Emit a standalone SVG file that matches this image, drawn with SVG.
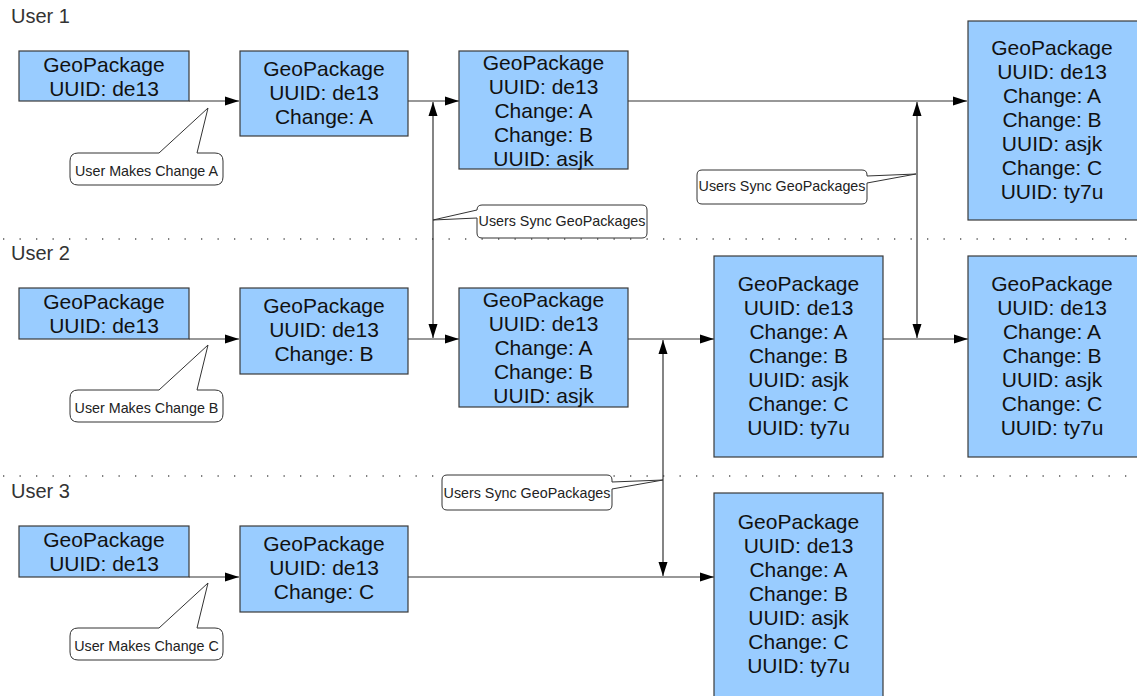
<svg xmlns="http://www.w3.org/2000/svg" width="1137" height="696" viewBox="0 0 1137 696">
<style>
.box{fill:#99ccff;stroke:#3a3a3a;stroke-width:1.2}
.bt{font-family:"Liberation Sans",Arial,sans-serif;font-size:21px;fill:#111;text-anchor:middle}
.lbl{font-family:"Liberation Sans",Arial,sans-serif;font-size:20px;fill:#333}
.co{fill:#fff;stroke:#333;stroke-width:1}
.ct{font-family:"Liberation Sans",Arial,sans-serif;font-size:14.3px;fill:#222;text-anchor:middle}
.ln{fill:none;stroke:#333;stroke-width:1.2}
.dot{stroke:#555;stroke-width:1.3;stroke-dasharray:1.3 15.2}
</style>
<defs>
<marker id="ah" markerUnits="userSpaceOnUse" markerWidth="14" markerHeight="10" refX="14" refY="5" orient="auto-start-reverse">
<path d="M0,0.5 L14,5 L0,9.5 Z" fill="#000"/>
</marker>
</defs>
<rect width="1137" height="696" fill="#fff"/>
<g id="separators">
<line class="dot" x1="3" y1="239" x2="1137" y2="239"/>
<line class="dot" x1="3" y1="476" x2="1137" y2="476"/>
</g>
<g id="labels">
<text class="lbl" x="11" y="23">User 1</text>
<text class="lbl" x="11" y="260">User 2</text>
<text class="lbl" x="11" y="498">User 3</text>
</g>
<g id="connectors">
<line class="ln" x1="189" y1="101" x2="239" y2="101" marker-end="url(#ah)"/>
<line class="ln" x1="408" y1="101" x2="459" y2="101" marker-end="url(#ah)"/>
<line class="ln" x1="628" y1="101" x2="967" y2="101" marker-end="url(#ah)"/>
<line class="ln" x1="189" y1="339" x2="239" y2="339" marker-end="url(#ah)"/>
<line class="ln" x1="408" y1="339" x2="459" y2="339" marker-end="url(#ah)"/>
<line class="ln" x1="628" y1="339" x2="714" y2="339" marker-end="url(#ah)"/>
<line class="ln" x1="883" y1="339" x2="968" y2="339" marker-end="url(#ah)"/>
<line class="ln" x1="189" y1="577" x2="239" y2="577" marker-end="url(#ah)"/>
<line class="ln" x1="408" y1="577" x2="714" y2="577" marker-end="url(#ah)"/>
<line class="ln" x1="433" y1="102" x2="433" y2="338" marker-start="url(#ah)" marker-end="url(#ah)"/>
<line class="ln" x1="917" y1="102" x2="917" y2="338" marker-start="url(#ah)" marker-end="url(#ah)"/>
<line class="ln" x1="663" y1="340" x2="663" y2="576" marker-start="url(#ah)" marker-end="url(#ah)"/>
</g>
<g id="r1b1"><rect class="box" x="19" y="51" width="170" height="50"/>
<text class="bt" x="104" y="72">GeoPackage</text><text class="bt" x="104" y="96">UUID: de13</text></g>
<g id="r1b2"><rect class="box" x="240" y="51" width="168" height="85"/>
<text class="bt" x="324" y="76">GeoPackage</text><text class="bt" x="324" y="100">UUID: de13</text><text class="bt" x="324" y="124">Change: A</text></g>
<g id="r1b3"><rect class="box" x="459" y="51" width="169" height="118"/>
<text class="bt" x="543.5" y="70">GeoPackage</text><text class="bt" x="543.5" y="94">UUID: de13</text><text class="bt" x="543.5" y="118">Change: A</text><text class="bt" x="543.5" y="142">Change: B</text><text class="bt" x="543.5" y="166">UUID: asjk</text></g>
<g id="r1b4"><rect class="box" x="968" y="21" width="172" height="199"/>
<text class="bt" x="1052" y="55">GeoPackage</text><text class="bt" x="1052" y="79">UUID: de13</text><text class="bt" x="1052" y="103">Change: A</text><text class="bt" x="1052" y="127">Change: B</text><text class="bt" x="1052" y="151">UUID: asjk</text><text class="bt" x="1052" y="175">Change: C</text><text class="bt" x="1052" y="199">UUID: ty7u</text></g>
<g id="r2b1"><rect class="box" x="19" y="288" width="170" height="51"/>
<text class="bt" x="104" y="309">GeoPackage</text><text class="bt" x="104" y="333">UUID: de13</text></g>
<g id="r2b2"><rect class="box" x="240" y="288" width="168" height="86"/>
<text class="bt" x="324" y="313">GeoPackage</text><text class="bt" x="324" y="337">UUID: de13</text><text class="bt" x="324" y="361">Change: B</text></g>
<g id="r2b3"><rect class="box" x="459" y="288" width="169" height="119"/>
<text class="bt" x="543.5" y="307">GeoPackage</text><text class="bt" x="543.5" y="331">UUID: de13</text><text class="bt" x="543.5" y="355">Change: A</text><text class="bt" x="543.5" y="379">Change: B</text><text class="bt" x="543.5" y="403">UUID: asjk</text></g>
<g id="r2b4"><rect class="box" x="714" y="256" width="169" height="201"/>
<text class="bt" x="798.5" y="291">GeoPackage</text><text class="bt" x="798.5" y="315">UUID: de13</text><text class="bt" x="798.5" y="339">Change: A</text><text class="bt" x="798.5" y="363">Change: B</text><text class="bt" x="798.5" y="387">UUID: asjk</text><text class="bt" x="798.5" y="411">Change: C</text><text class="bt" x="798.5" y="435">UUID: ty7u</text></g>
<g id="r2b5"><rect class="box" x="968" y="256" width="172" height="201"/>
<text class="bt" x="1052" y="291">GeoPackage</text><text class="bt" x="1052" y="315">UUID: de13</text><text class="bt" x="1052" y="339">Change: A</text><text class="bt" x="1052" y="363">Change: B</text><text class="bt" x="1052" y="387">UUID: asjk</text><text class="bt" x="1052" y="411">Change: C</text><text class="bt" x="1052" y="435">UUID: ty7u</text></g>
<g id="r3b1"><rect class="box" x="19" y="526" width="170" height="51"/>
<text class="bt" x="104" y="547">GeoPackage</text><text class="bt" x="104" y="571">UUID: de13</text></g>
<g id="r3b2"><rect class="box" x="240" y="526" width="168" height="86"/>
<text class="bt" x="324" y="551">GeoPackage</text><text class="bt" x="324" y="575">UUID: de13</text><text class="bt" x="324" y="599">Change: C</text></g>
<g id="r3b3"><rect class="box" x="714" y="493" width="169" height="205"/>
<text class="bt" x="798.5" y="529">GeoPackage</text><text class="bt" x="798.5" y="553">UUID: de13</text><text class="bt" x="798.5" y="577">Change: A</text><text class="bt" x="798.5" y="601">Change: B</text><text class="bt" x="798.5" y="625">UUID: asjk</text><text class="bt" x="798.5" y="649">Change: C</text><text class="bt" x="798.5" y="673">UUID: ty7u</text></g>
<g id="calloutA"><path class="co" d="M78,153 L159,153 L208,108 L197,153 L215,153 Q223,153 223,161 L223,177 Q223,185 215,185 L78,185 Q70,185 70,177 L70,161 Q70,153 78,153 Z"/>
<text class="ct" x="146.5" y="176">User Makes Change A</text></g>
<g id="calloutB"><path class="co" d="M78,390 L159,390 L208,345 L197,390 L215,390 Q223,390 223,398 L223,414 Q223,422 215,422 L78,422 Q70,422 70,414 L70,398 Q70,390 78,390 Z"/>
<text class="ct" x="146.5" y="413">User Makes Change B</text></g>
<g id="calloutC"><path class="co" d="M78,628 L159,628 L208,583 L197,628 L215,628 Q223,628 223,636 L223,652 Q223,660 215,660 L78,660 Q70,660 70,652 L70,636 Q70,628 78,628 Z"/>
<text class="ct" x="146.5" y="651">User Makes Change C</text></g>
<g id="sync1"><path class="co" d="M482,205 L642,205 Q647,205 647,210 L647,233 Q647,238 642,238 L482,238 Q477,238 477,233 L477,218 L433,220 L477,210 Q477,205 482,205 Z"/>
<text class="ct" x="562" y="226">Users Sync GeoPackages</text></g>
<g id="sync2"><path class="co" d="M702,170 L862,170 Q867,170 867,175 L867,176 L916,174 L867,183 L867,199 Q867,204 862,204 L702,204 Q697,204 697,199 L697,175 Q697,170 702,170 Z"/>
<text class="ct" x="782" y="191">Users Sync GeoPackages</text></g>
<g id="sync3"><path class="co" d="M447,475 L607,475 Q612,475 612,480 L612,482 L663,480 L612,489 L612,505 Q612,510 607,510 L447,510 Q442,510 442,505 L442,480 Q442,475 447,475 Z"/>
<text class="ct" x="527" y="498">Users Sync GeoPackages</text></g>
</svg>
